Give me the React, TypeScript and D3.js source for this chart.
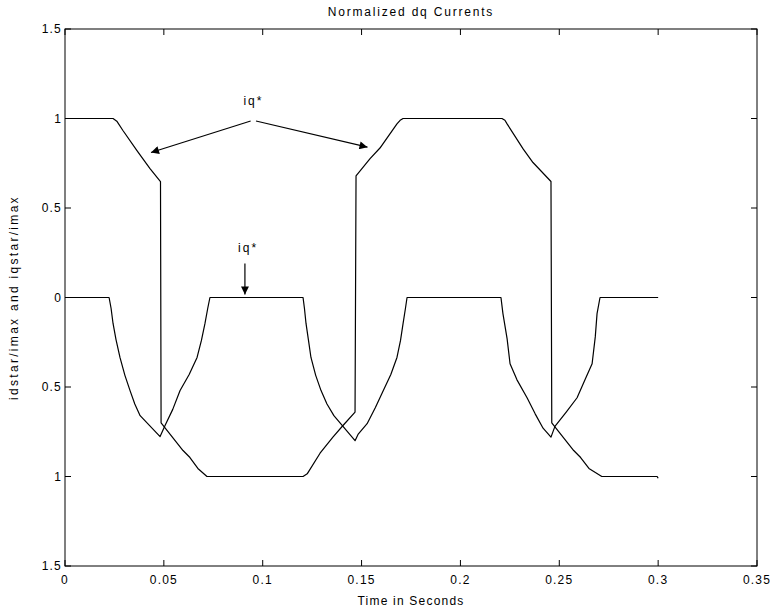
import React from "react";
import * as d3 from "d3";

// Curve 1 (iq*): time in seconds, normalized value
const iqTime = [0, 0.0243, 0.0262, 0.0293, 0.0364, 0.043, 0.0483, 0.0486, 0.0597, 0.0632, 0.0672, 0.0718, 0.1204, 0.1225, 0.129, 0.1355, 0.1406, 0.1467, 0.1472, 0.1543, 0.1593, 0.1679, 0.1695, 0.171, 0.221, 0.2225, 0.2236, 0.2317, 0.2367, 0.2458, 0.2462, 0.2573, 0.2608, 0.2650, 0.2715, 0.2995, 0.3];
const iqValue = [1, 1, 0.985, 0.933, 0.821, 0.72, 0.648, -0.70, -0.855, -0.894, -0.955, -1.0, -1.0, -0.985, -0.87, -0.78, -0.715, -0.64, 0.68, 0.776, 0.835, 0.97, 0.99, 1.0, 1.0, 0.99, 0.97, 0.83, 0.754, 0.648, -0.70, -0.855, -0.894, -0.955, -1.0, -1.0, -1.01];

// Curve 2 (id*)
const idTime = [0, 0.0223, 0.0233, 0.0243, 0.0258, 0.0278, 0.0303, 0.0329, 0.0353, 0.038, 0.0481,
  0.0506, 0.0545, 0.0582, 0.0628, 0.0668, 0.069, 0.0708, 0.0722, 0.0733,
  0.1204, 0.1211, 0.1219, 0.1231, 0.1244, 0.1268, 0.1295, 0.1325, 0.136, 0.1467,
  0.1482, 0.1528, 0.157, 0.161, 0.1648, 0.1679, 0.1697, 0.171, 0.1722, 0.173,
  0.2205, 0.2215, 0.2236, 0.2251, 0.2286, 0.2337, 0.2378, 0.2418, 0.2458,
  0.2478, 0.2535, 0.259, 0.263, 0.2666, 0.2682, 0.2691, 0.2706, 0.3];
const idValue = [0, 0, -0.06, -0.145, -0.235, -0.335, -0.435, -0.52, -0.595, -0.66, -0.777,
  -0.715, -0.625, -0.52, -0.43, -0.335, -0.24, -0.145, -0.06, 0,
  0, -0.06, -0.145, -0.235, -0.335, -0.435, -0.52, -0.595, -0.66, -0.8,
  -0.765, -0.705, -0.615, -0.52, -0.43, -0.335, -0.24, -0.145, -0.06, 0,
  0, -0.09, -0.23, -0.37, -0.46, -0.56, -0.65, -0.73, -0.78,
  -0.72, -0.64, -0.56, -0.46, -0.37, -0.22, -0.09, 0, 0];

const xTicks = [0, 0.05, 0.1, 0.15, 0.2, 0.25, 0.3, 0.35];
const xTickLabels = ["0", "0.05", "0.1", "0.15", "0.2", "0.25", "0.3", "0.35"];
const yTicks = [1.5, 1, 0.5, 0, -0.5, -1, -1.5];
const yTickLabels = ["1.5", "1", "0.5", "0", "0.5", "1", "1.5"];

const titleText = "Normalized dq Currents";
const xLabelText = "Time in Seconds";
const yLabelText = "idstar/imax and iqstar/imax";
const annotationText = "iq*";

export default function App() {
  const W = 770, H = 609;
  const left = 65, right = 757, top = 29, bottom = 566;
  const x = d3.scaleLinear().domain([0, 0.35]).range([left, right]);
  const y = d3.scaleLinear().domain([-1.5, 1.5]).range([bottom, top]);
  const line = d3.line<[number, number]>().x(d => x(d[0])).y(d => y(d[1]));
  const iqPts: [number, number][] = iqTime.map((t, i) => [t, iqValue[i]]);
  const idPts: [number, number][] = idTime.map((t, i) => [t, idValue[i]]);
  const tick = 6;
  const font = "'Liberation Sans', Arial, Helvetica, sans-serif";
  const fs = 12;
  const ls = 1.2;

  const arrows: [number, number, number, number][] = [
    [0.0939, 0.986, 0.0435, 0.81],
    [0.0966, 0.986, 0.153, 0.84],
    [0.0910, 0.19, 0.0910, 0.017],
  ];

  return (
    <svg width={W} height={H} style={{ position: "absolute", left: 0, top: 0, background: "#fff" }}>
      <defs>
        <marker id="ah" viewBox="0 0 10 10" refX="10" refY="5" markerWidth="10" markerHeight="8" markerUnits="userSpaceOnUse" orient="auto">
          <path d="M0,0 L10,5 L0,10 Z" fill="#000" />
        </marker>
      </defs>
      <rect x={left} y={top} width={right - left} height={bottom - top} fill="none" stroke="#000" strokeWidth={1} />
      {xTicks.map((t, i) => (
        <g key={"xt" + i}>
          <line x1={x(t)} x2={x(t)} y1={bottom} y2={bottom - tick} stroke="#000" />
          <line x1={x(t)} x2={x(t)} y1={top} y2={top + tick} stroke="#000" />
          <text x={x(t)} y={bottom + 18} textAnchor="middle" fontFamily={font} fontSize={fs} letterSpacing={ls}>{xTickLabels[i]}</text>
        </g>
      ))}
      {yTicks.map((v, i) => (
        <g key={"yt" + i}>
          <line x1={left} x2={left + tick} y1={y(v)} y2={y(v)} stroke="#000" />
          <line x1={right} x2={right - tick} y1={y(v)} y2={y(v)} stroke="#000" />
          <text x={left - 3} y={y(v) + 4} textAnchor="end" fontFamily={font} fontSize={fs} letterSpacing={ls}>{yTickLabels[i]}</text>
        </g>
      ))}
      <path d={line(iqPts) || ""} fill="none" stroke="#000" strokeWidth={1.2} strokeLinejoin="round" />
      <path d={line(idPts) || ""} fill="none" stroke="#000" strokeWidth={1.2} strokeLinejoin="round" />
      {arrows.map((a, i) => (
        <line key={"ar" + i} x1={x(a[0])} y1={y(a[1])} x2={x(a[2])} y2={y(a[3])} stroke="#000" strokeWidth={1.2} markerEnd="url(#ah)" />
      ))}
      <text x={x(0.0953)} y={y(1.1) + 4} textAnchor="middle" fontFamily={font} fontSize={fs} letterSpacing={2}>{annotationText}</text>
      <text x={x(0.0926)} y={y(0.274) + 4} textAnchor="middle" fontFamily={font} fontSize={fs} letterSpacing={2}>{annotationText}</text>
      <text x={(left + right) / 2} y={16} textAnchor="middle" fontFamily={font} fontSize={fs} letterSpacing={1.8}>{titleText}</text>
      <text x={(left + right) / 2} y={605} textAnchor="middle" fontFamily={font} fontSize={fs} letterSpacing={ls}>{xLabelText}</text>
      <text transform={`translate(18,${(top + bottom) / 2}) rotate(-90)`} textAnchor="middle" fontFamily={font} fontSize={fs} letterSpacing={2.3}>{yLabelText}</text>
    </svg>
  );
}
